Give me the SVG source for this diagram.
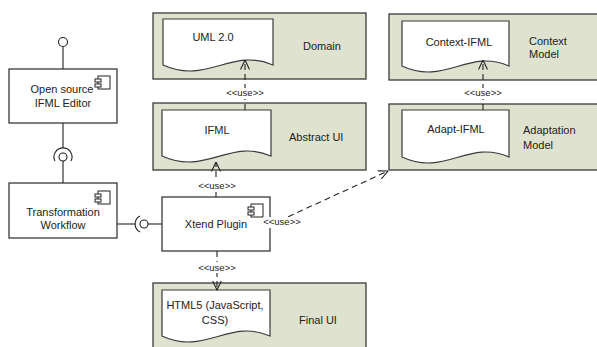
<svg xmlns="http://www.w3.org/2000/svg" width="597" height="347" viewBox="0 0 597 347">
<defs>
<style>
.grp{fill:#dfe2cf;stroke:#3a3a3a;stroke-width:1.3}
.doc{fill:#ffffff;stroke:#3a3a3a;stroke-width:1.2}
.comp{fill:#ffffff;stroke:#3a3a3a;stroke-width:1.3}
.ic{fill:#ffffff;stroke:#222;stroke-width:1}
.t{font-family:"Liberation Sans",Arial,sans-serif;font-size:11px;fill:#222}
.c{text-anchor:middle}
.u{font-family:"Liberation Sans",Arial,sans-serif;font-size:9.5px;fill:#222;text-anchor:middle}
.lb{fill:#ffffff}
.dash{fill:none;stroke:#222;stroke-width:1.1;stroke-dasharray:6,4}
.solid{fill:none;stroke:#222;stroke-width:1.1}
</style>
<marker id="arr" viewBox="0 0 10 10" refX="9.5" refY="5" markerWidth="10" markerHeight="10" markerUnits="userSpaceOnUse" orient="auto">
<path d="M0,0.5 L9.5,5 L0,9.5" fill="none" stroke="#222" stroke-width="1.1"/>
</marker>
</defs>
<rect width="597" height="347" fill="#ffffff"/>

<g id="domain">
<rect class="grp" x="153" y="13" width="213" height="66"/>
<path class="doc" d="M163,19 H273 V65 C231,47 207,85 163,65 Z"/>
<text class="t c" x="213" y="41">UML 2.0</text>
<text class="t" x="303" y="50">Domain</text>
</g>

<g id="context-model">
<rect class="grp" x="389" y="14" width="215" height="66"/>
<path class="doc" d="M402,21 H509 V66 C468,48 445,86 402,66 Z"/>
<text class="t c" x="459" y="46">Context-IFML</text>
<text class="t" x="529" y="45">Context</text>
<text class="t" x="529" y="58">Model</text>
</g>

<g id="abstract-ui">
<rect class="grp" x="153" y="103" width="213" height="67"/>
<path class="doc" d="M162,110 H271 V156 C230,138 206,176 162,156 Z"/>
<text class="t c" x="217" y="134">IFML</text>
<text class="t" x="289" y="141">Abstract UI</text>
</g>

<g id="adaptation-model">
<rect class="grp" x="389" y="104" width="215" height="66"/>
<path class="doc" d="M402,110 H509 V157 C468,139 445,177 402,157 Z"/>
<text class="t c" x="456" y="133">Adapt-IFML</text>
<text class="t" x="523" y="134">Adaptation</text>
<text class="t" x="523" y="149">Model</text>
</g>

<g id="final-ui">
<rect class="grp" x="153" y="283" width="213" height="70"/>
<path class="doc" d="M162,290 H270 V336 C229,318 205,356 162,336 Z"/>
<text class="t c" x="215" y="309">HTML5 (JavaScript,</text>
<text class="t c" x="215" y="324">CSS)</text>
<text class="t" x="299" y="324">Final UI</text>
</g>

<g id="ifml-editor">
<rect class="comp" x="9" y="69" width="108" height="54"/>
<rect class="ic" x="98" y="76" width="12" height="13"/>
<rect class="ic" x="95" y="79" width="6" height="3"/>
<rect class="ic" x="95" y="84" width="6" height="3"/>
<text class="t c" x="62" y="93">Open source</text>
<text class="t c" x="63" y="107">IFML Editor</text>
</g>

<g id="transformation-workflow">
<rect class="comp" x="9" y="183" width="108" height="55"/>
<rect class="ic" x="98" y="191" width="12" height="13"/>
<rect class="ic" x="95" y="194" width="6" height="3"/>
<rect class="ic" x="95" y="199" width="6" height="3"/>
<text class="t c" x="63" y="216">Transformation</text>
<text class="t c" x="63" y="229">Workflow</text>
</g>

<g id="xtend-plugin">
<rect class="comp" x="162" y="197" width="108" height="54"/>
<rect class="ic" x="251" y="204" width="12" height="13"/>
<rect class="ic" x="248" y="207" width="6" height="3"/>
<rect class="ic" x="248" y="212" width="6" height="3"/>
<text class="t c" x="216" y="228">Xtend Plugin</text>
</g>

<g id="connectors">
<line class="solid" x1="63" y1="47" x2="63" y2="69"/>
<circle class="solid" cx="63" cy="42" r="4.5"/>
<line class="solid" x1="63" y1="123" x2="63" y2="148"/>
<path class="solid" d="M55,161 A9,9 0 1 1 71,161"/>
<circle class="solid" cx="63" cy="157" r="4"/>
<line class="solid" x1="63" y1="161" x2="63" y2="183"/>
<line class="solid" x1="117" y1="224" x2="135" y2="224"/>
<path class="solid" d="M140,216 A9,9 0 0 0 140,232"/>
<circle class="solid" cx="144" cy="224" r="4"/>
<line class="solid" x1="148" y1="224" x2="162" y2="224"/>
<line class="dash" x1="245" y1="110" x2="245" y2="60" marker-end="url(#arr)"/>
<line class="dash" x1="483" y1="110" x2="483" y2="60" marker-end="url(#arr)"/>
<line class="dash" x1="216" y1="197" x2="216" y2="162" marker-end="url(#arr)"/>
<line class="dash" x1="217" y1="251" x2="217" y2="290" marker-end="url(#arr)"/>
<line class="dash" x1="270" y1="225" x2="388" y2="171" marker-end="url(#arr)"/>
<rect class="lb" x="226" y="88" width="38" height="11"/>
<text class="u" x="245" y="96">&lt;&lt;use&gt;&gt;</text>
<rect class="lb" x="464" y="88" width="38" height="11"/>
<text class="u" x="483" y="96">&lt;&lt;use&gt;&gt;</text>
<rect class="lb" x="198" y="181" width="38" height="11"/>
<text class="u" x="217" y="189">&lt;&lt;use&gt;&gt;</text>
<rect class="lb" x="198" y="262" width="38" height="11"/>
<text class="u" x="217" y="271">&lt;&lt;use&gt;&gt;</text>
<rect class="lb" x="263" y="217" width="38" height="11"/>
<text class="u" x="282" y="225">&lt;&lt;use&gt;&gt;</text>
</g>
</svg>
